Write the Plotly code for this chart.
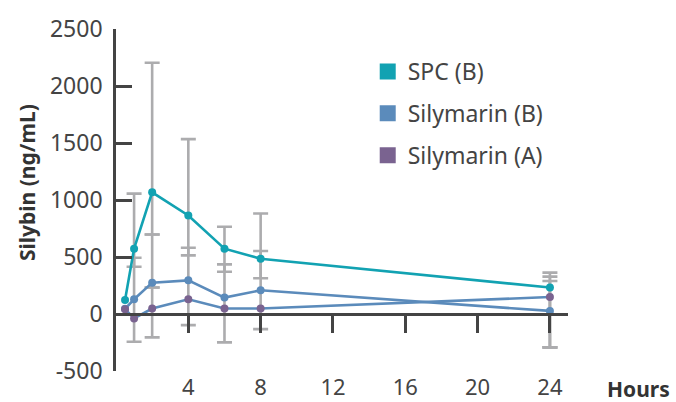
import plotly.graph_objects as go

hours = [0.5, 1, 2, 4, 6, 8, 24]
x_ticks = [4, 8, 12, 16, 20, 24]
y_ticks = [-500, 0, 500, 1000, 1500, 2000, 2500]

spc_b = [123, 573, 1067, 864, 573, 485, 232]
silymarin_b = [45, 129, 275, 295, 144, 208, 27]
silymarin_a = [42, -39, 48, 129, 48, 48, 149]

# error bar limits (lower / upper), None = no bar
spc_b_lo = [None, 415, 698, 514, 371, 313, -293]
spc_b_hi = [None, 1056, 2204, 1534, 765, 881, 363]
silymarin_b_lo = [None, -244, 232, -98, -249, -133, -293]
silymarin_b_hi = [None, 494, 698, 581, 435, 552, 289]
silymarin_a_lo = [None, None, -205, None, None, None, -293]
silymarin_a_hi = [None, None, 232, None, None, None, 328]

names = ["SPC (B)", "Silymarin (B)", "Silymarin (A)"]
colors = ["#12a2b2", "#5b8bbb", "#7a6390"]
line_colors = ["#12a2b2", "#5b8bbb", "#5b8bbb"]
series = [spc_b, silymarin_b, silymarin_a]
limits = [(spc_b_lo, spc_b_hi), (silymarin_b_lo, silymarin_b_hi), (silymarin_a_lo, silymarin_a_hi)]

FONT = "Noto Sans"
TXT = "#444444"
AX = "#444444"
GREY = "#acacae"

fig = go.Figure()

# error bars (drawn first, below lines)
for lo, hi in limits:
    mid, half = [], []
    for a, b in zip(lo, hi):
        if a is None or b is None:
            mid.append(None)
            half.append(0)
        else:
            mid.append((a + b) / 2)
            half.append((b - a) / 2)
    fig.add_trace(go.Scatter(
        x=hours, y=mid, mode="markers", marker=dict(size=1, opacity=0),
        error_y=dict(type="data", array=half, symmetric=True, color=GREY,
                     thickness=2.6, width=7.5),
        showlegend=False, hoverinfo="skip"))

# series lines
for vals, col, lcol in zip(series, colors, line_colors):
    fig.add_trace(go.Scatter(
        x=hours, y=vals, mode="lines+markers",
        line=dict(color=lcol, width=2.6),
        marker=dict(color=col, size=8),
        showlegend=False))

# legend entries (squares)
for i, (nm, col) in enumerate(zip(names, colors)):
    fig.add_trace(go.Scatter(
        x=[None], y=[None], mode="markers", name=nm,
        marker=dict(symbol="square", color=col, size=18),
        legendgroup=f"g{i}", xaxis="x2"))

L, R, T, B = 116, 107.5, 29, 31
PW, PH = 676 - L - R, 402 - T - B
ymin, ymax = -500, 2500
zero_pos = (0 - ymin) / (ymax - ymin)

fig.update_layout(
    width=676, height=402,
    margin=dict(l=L, r=R, t=T, b=B, autoexpand=False),
    paper_bgcolor="white", plot_bgcolor="white",
    font=dict(family=FONT, size=23, color=TXT),
    showlegend=True,
    legend=dict(x=(368 - L) / PW, y=(402 - B - 50) / PH, xanchor="left", yanchor="top",
                font=dict(family=FONT, size=23, color=TXT),
                tracegroupgap=9, bgcolor="rgba(0,0,0,0)",
                itemsizing="trace"),
    xaxis=dict(range=[0, 25], anchor="free", position=zero_pos,
               showline=True, linecolor=AX, linewidth=2.6,
               ticks="outside", ticklen=17, tickwidth=2.6, tickcolor=AX,
               tickvals=x_ticks, showticklabels=False, automargin=False,
               showgrid=False, zeroline=False),
    xaxis2=dict(range=[0, 25], overlaying="x", anchor="y", side="bottom",
                showline=False, ticks="", tickvals=x_ticks,
                ticktext=[str(v) for v in x_ticks],
                ticklabelstandoff=1, automargin=False,
                tickfont=dict(family=FONT, size=22, color=TXT),
                showgrid=False, zeroline=False),
    yaxis=dict(range=[ymin, ymax], tickvals=y_ticks,
               ticktext=[str(v) for v in y_ticks],
               showline=True, linecolor=AX, linewidth=2.6,
               ticks="inside", ticklen=16, tickwidth=2.6, tickcolor=AX,
               ticklabelstandoff=6, automargin=False,
               tickfont=dict(family=FONT, size=23, color=TXT),
               showgrid=False, zeroline=False),
)

fig.add_annotation(text="<b>Silybin (ng/mL)</b>", xref="paper", yref="paper",
                   x=(27 - L) / PW, y=(402 - B - 183) / PH,
                   xanchor="center", yanchor="middle", textangle=-90,
                   showarrow=False, font=dict(family=FONT, size=21, color="#333333"))
fig.add_annotation(text="<b>Hours</b>", xref="paper", yref="paper",
                   x=(673 - L) / PW, y=(402 - B - 389) / PH,
                   xanchor="right", yanchor="middle",
                   showarrow=False, font=dict(family=FONT, size=21, color="#333333"))

fig.write_html("out.html", config={"displayModeBar": False},
               post_script="document.body.style.margin='0';document.body.style.padding='0';document.body.style.overflow='hidden';")
